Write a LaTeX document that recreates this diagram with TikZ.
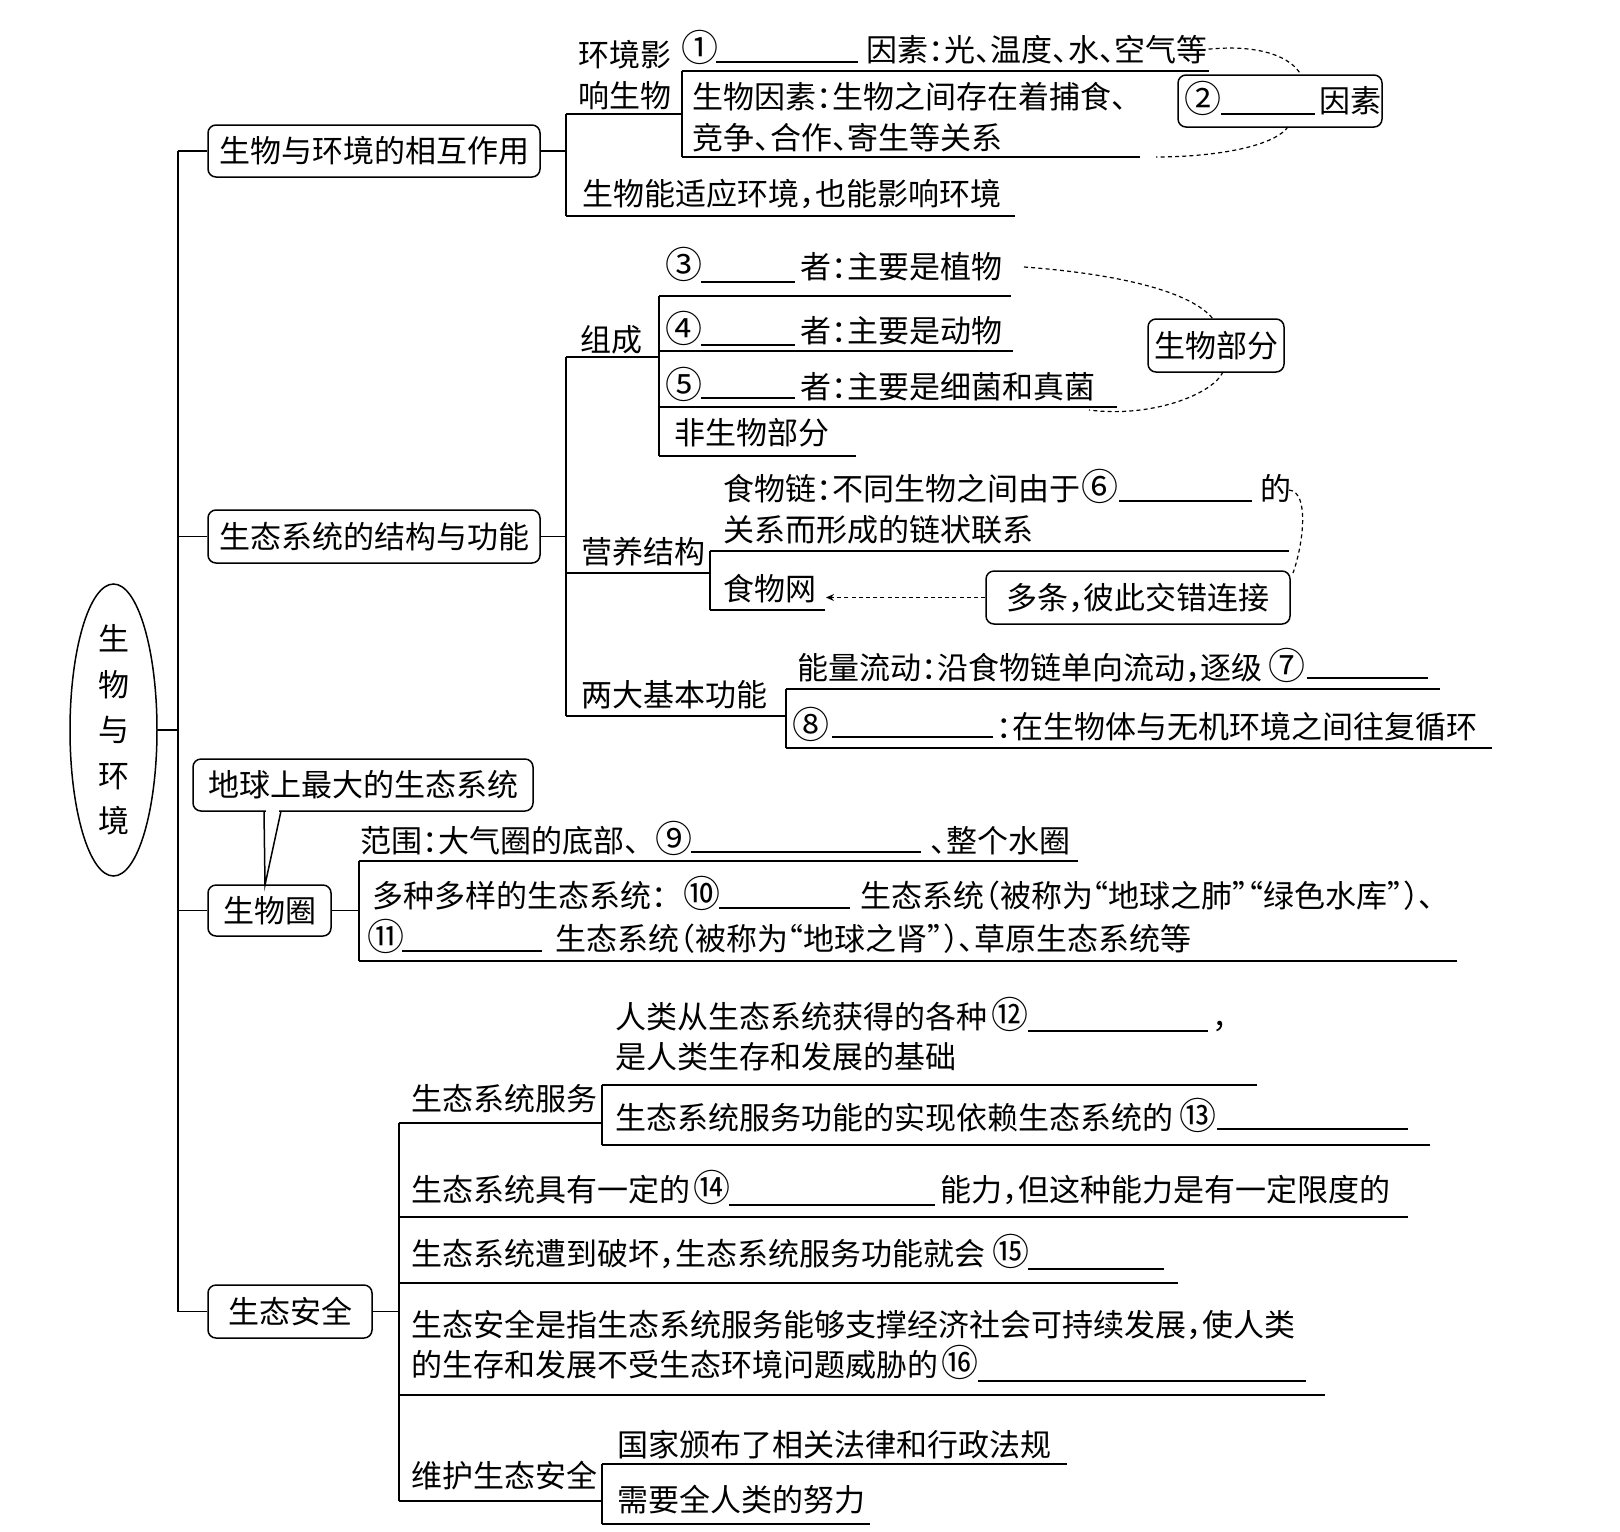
\documentclass[tikz,border=0pt]{standalone}
\usepackage{graphicx}
\usepackage{fontspec}
\setmainfont{Noto Sans CJK SC}[RawFeature={+halt}]
\usetikzlibrary{arrows.meta,shapes.geometric}
\newcommand\myfs{\fontsize{15.5pt}{18pt}\selectfont}
\newcommand\mynumfs{\fontsize{18.5pt}{20pt}\selectfont}
\newcommand\halfp[1]{\makebox[0.5em][l]{#1}}
\begin{document}
\begin{tikzpicture}[x=0.5pt,y=-0.5pt,line width=0.75pt,
 txt/.style={anchor=base west,inner sep=0pt,yshift=-6pt,font=\myfs},
 num/.style={anchor=base,inner sep=0pt,yshift=-6.3pt,font=\mynumfs},
 box/.style={draw,rounded corners=4pt,inner sep=0pt,font=\myfs},
 bl/.style={line width=0.7pt},
 dots/.style={line width=0.6pt,dash pattern=on 2pt off 1.6pt}]
\useasboundingbox[fill=white] (0,0) rectangle (1620,1531);

% root
\node[draw,ellipse,minimum width=43.5pt,minimum height=146pt,inner sep=0pt] (root) at (113.5,730) {};
\node[align=center,inner sep=0pt,font=\fontsize{15.5pt}{22.75pt}\selectfont] (rootT) at (root.center) {生\\物\\与\\环\\境};

% level-1 boxes
\node[box,minimum width=166pt,minimum height=26pt] (b1) at (374,151) {生物与环境的相互作用};
\node[box,minimum width=166pt,minimum height=26.5pt] (b2) at (374,536.5) {生态系统的结构与功能};
\node[box,minimum width=61.5pt,minimum height=25.5pt] (b3) at (269.5,910.5) {生物圈};
\node[box,minimum width=82pt,minimum height=26.5pt] (b4) at (290,1311.5) {生态安全};
\node[box,minimum width=170pt,minimum height=26pt] (call) at (363,785) {地球上最大的生态系统};

% main trunk
\coordinate (mx) at (178,0);
\draw (root.east) -- (root.east -| mx);
\draw (b1.west -| mx) -- (b4.west -| mx);
\foreach \b in {b1,b2,b3,b4} {\draw (\b.west -| mx) -- (\b.west);}

% callout tail
\coordinate (ta) at (264,811);
\coordinate (tb) at (281,811);
\coordinate (tc) at (265,885);
\fill[white] (266,808) rectangle (279,814);
\draw (ta) -- (tc) -- (tb);

% ===== Section 1 =====
\coordinate (s1) at (566,151);
\draw (b1.east) -- (s1);
\draw (566,114) -- (566,216);
\draw (566,114) -- (682,114);
\draw (682,71) -- (682,157);
\draw (682,71) -- (1209,71);
\draw (682,157) -- (1140,157);
\draw (566,216) -- (1015,216);
\node[txt] (e1) at (578,54) {环境影};
\node[txt] (e2) at (578,95) {响生物};
\node[num] (n1) at (700,49) {①};
\draw[bl] (716,62) -- (858,62);
\node[txt] (e3) at (866,49) {因素：光、温度、水、空气等};
\node[txt] (e4) at (692,96) {生物因素：生物之间存在着捕食、};
\node[txt] (e5) at (692,137) {竞争、合作、寄生等关系};
\node[txt] (e6) at (582,193) {生物能适应环境，也能影响环境};
\node[box,minimum width=102pt,minimum height=26pt] (bf) at (1280,101) {};
\node[num] (n2) at (1203,100) {②};
\draw[bl] (1221,114) -- (1315,114);
\node[txt] (e7) at (1319,100) {因素};
\coordinate (c0end) at (1301,75);
\draw[dots] (e3.east) .. controls (1262,44) and (1292,58) .. (c0end);
\coordinate (c1end) at (1156,157);
\draw[dots] (1288,127) .. controls (1272,148) and (1210,157) .. (c1end);

% ===== Section 2 =====
\draw (b2.east) -- (566,536.5);
\draw (566,357) -- (566,716);
\draw (566,357) -- (659,357);
\draw (659,296) -- (659,456);
\draw (659,296) -- (1011,296);
\draw (659,351) -- (1013,351);
\draw (659,407) -- (1117,407);
\draw (659,456) -- (856,456);
\node[txt] (z1) at (580,339) {组成};
\node[num] (n3) at (684,266) {③};
\draw[bl] (701,282) -- (795,282);
\node[txt] (z3) at (800,266) {者：主要是植物};
\node[num] (n4) at (684,330) {④};
\draw[bl] (701,345) -- (795,345);
\node[txt] (z4) at (800,330) {者：主要是动物};
\node[num] (n5) at (684,386) {⑤};
\draw[bl] (701,398) -- (795,398);
\node[txt] (z5) at (800,386) {者：主要是细菌和真菌};
\node[txt] (z6) at (674,432) {非生物部分};
\node[box,minimum width=68pt,minimum height=26.5pt] (bsw) at (1216,345.5) {生物部分};
\draw[dots] (1024,267) .. controls (1120,274) and (1192,292) .. (1213,319);
\draw[dots] (1223,372) .. controls (1212,395) and (1150,418) .. (1089,410);

% 营养结构
\draw (566,573) -- (710,573);
\draw (710,551) -- (710,610);
\draw (710,551) -- (1289,551);
\draw (710,610) -- (825,610);
\node[txt] (y1) at (581,551) {营养结构};
\node[txt] (y2) at (723,488) {食物链：不同生物之间由于};
\node[num] (n6) at (1100,488) {⑥};
\draw[bl] (1119,501) -- (1252,501);
\node[txt] (y3) at (1260,488) {的};
\node[txt] (y4) at (723,529) {关系而形成的链状联系};
\node[txt] (y5) at (723,588) {食物网};
\node[box,minimum width=152pt,minimum height=26.5pt] (bdt) at (1138,597.5) {多条，彼此交错连接};
\coordinate (fw) at (826,597.5);
\draw[dots,-{Stealth[length=4pt,width=3.5pt]}] (bdt.west) -- (fw);
\draw[dots] (1289,490) .. controls (1310,492) and (1303,545) .. (1293,573);

% 两大基本功能
\draw (566,716) -- (786,716);
\draw (786,689) -- (786,748);
\draw (786,689) -- (1440,689);
\draw (786,748) -- (1492,748);
\node[txt] (g1) at (581,694) {两大基本功能};
\node[txt] (g2) at (797,667) {能量流动：沿食物链单向流动，逐级};
\node[num] (n7) at (1287,667) {⑦};
\draw[bl] (1307,678) -- (1428,678);
\node[num] (n8) at (811,726) {⑧};
\draw[bl] (832,737) -- (993,737);
\node[txt] (g3) at (996,726) {：在生物体与无机环境之间往复循环};

% ===== Section 3 =====
\draw (b3.east) -- (359,910.5);
\draw (359,861) -- (359,961);
\draw (359,861) -- (1078,861);
\draw (359,961) -- (1457,961);
\node[txt] (q1) at (360,840) {范围：大气圈的底部\halfp{、}};
\node[num] (n9) at (674,840) {⑨};
\draw[bl] (691,852) -- (921,852);
\node[txt] (q2) at (930,840) {、整个水圈};
\node[txt] (q3) at (372,895) {多种多样的生态系统\halfp{：}};
\node[num] (n10) at (702,895) {⑩};
\draw[bl] (719,908) -- (850,908);
\node[txt] (q4) at (860,895) {生态系统（被称为“地球之肺”“绿色水库”）、};
\node[num] (n11) at (386,938) {⑪};
\draw[bl] (402,951) -- (542,951);
\node[txt] (q5) at (555,938) {生态系统（被称为“地球之肾”）、草原生态系统等};

% ===== Section 4 =====
\draw (b4.east) -- (399,1311.5);
\draw (399,1123) -- (399,1501);
\draw (399,1123) -- (602,1123);
\draw (602,1085) -- (602,1145);
\draw (602,1085) -- (1257,1085);
\draw (602,1145) -- (1430,1145);
\draw (399,1217) -- (1408,1217);
\draw (399,1283) -- (1178,1283);
\draw (399,1395) -- (1325,1395);
\draw (399,1501) -- (602,1501);
\draw (602,1464) -- (602,1524);
\draw (602,1464) -- (1067,1464);
\draw (602,1524) -- (870,1524);
\node[txt] (a1) at (411,1098) {生态系统服务};
\node[txt] (a2) at (615,1016) {人类从生态系统获得的各种};
\node[num] (n12) at (1010,1016) {⑫};
\draw[bl] (1028,1031) -- (1208,1031);
\node[txt] (a3) at (1212,1016) {，};
\node[txt] (a4) at (615,1056) {是人类生存和发展的基础};
\node[txt] (a5) at (615,1117) {生态系统服务功能的实现依赖生态系统的};
\node[num] (n13) at (1198,1117) {⑬};
\draw[bl] (1217,1129) -- (1408,1129);
\node[txt] (a6) at (411,1189) {生态系统具有一定的};
\node[num] (n14) at (712,1189) {⑭};
\draw[bl] (729,1205) -- (935,1205);
\node[txt] (a7) at (940,1189) {能力，但这种能力是有一定限度的};
\node[txt] (a8) at (411,1253) {生态系统遭到破坏，生态系统服务功能就会};
\node[num] (n15) at (1011,1253) {⑮};
\draw[bl] (1028,1269) -- (1164,1269);
\node[txt] (a9) at (411,1324) {生态安全是指生态系统服务能够支撑经济社会可持续发展，使人类};
\node[txt] (a10) at (411,1364) {的生存和发展不受生态环境问题威胁的};
\node[num] (n16) at (960,1364) {⑯};
\draw[bl] (978,1381) -- (1306,1381);
\node[txt] (a11) at (411,1475) {维护生态安全};
\node[txt] (a12) at (617,1444) {国家颁布了相关法律和行政法规};
\node[txt] (a13) at (617,1499) {需要全人类的努力};
\end{tikzpicture}
\end{document}
